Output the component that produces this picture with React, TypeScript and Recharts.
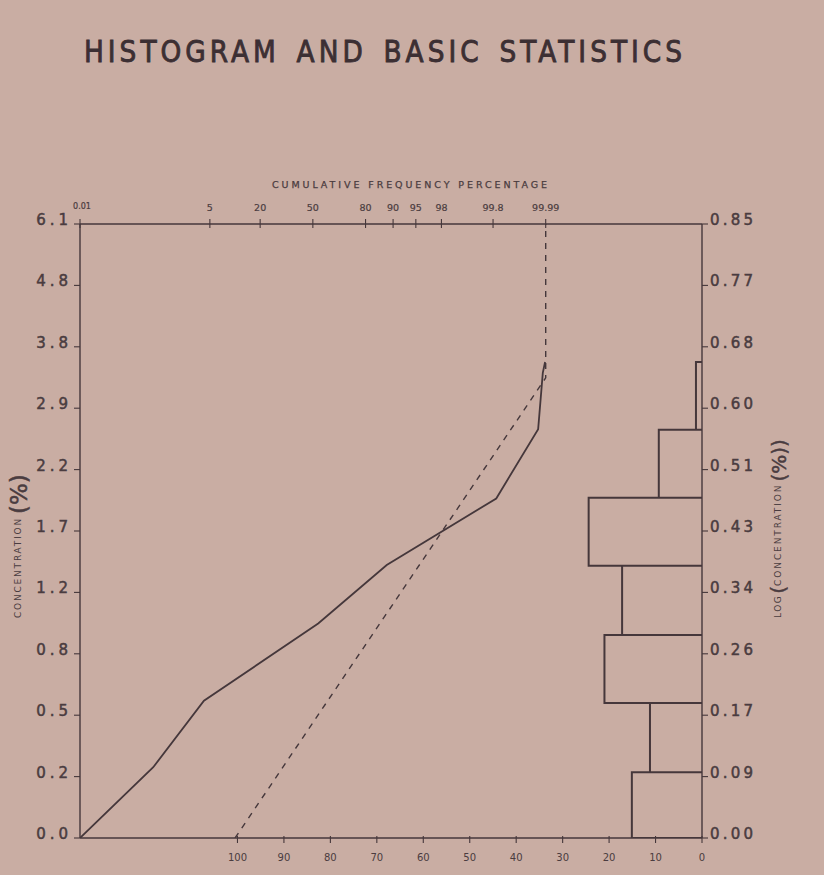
import React from "react";
import { ComposedChart, XAxis, YAxis, Scatter } from "recharts";

// ---------- data ----------
const TITLE = "HISTOGRAM AND BASIC STATISTICS";
const TOP_AXIS_TITLE = "CUMULATIVE FREQUENCY PERCENTAGE";

// cumulative frequency (probability) axis ticks, in percent
const cumTicks = [0.01, 5, 20, 50, 80, 90, 95, 98, 99.8, 99.99];
const cumTickLabels = ["0.01", "5", "20", "50", "80", "90", "95", "98", "99.8", "99.99"];

// log(1 + concentration) axis
const logTicks = [0, 0.085, 0.17, 0.255, 0.34, 0.425, 0.51, 0.595, 0.68, 0.765, 0.85];
const logLabels = ["0.00", "0.09", "0.17", "0.26", "0.34", "0.43", "0.51", "0.60", "0.68", "0.77", "0.85"];
const concLabels = ["0.0", "0.2", "0.5", "0.8", "1.2", "1.7", "2.2", "2.9", "3.8", "4.8", "6.1"];

// histogram frequency axis (percent), reversed
const freqTicks = [0, 10, 20, 30, 40, 50, 60, 70, 80, 90, 100];

// histogram bins (log concentration) and frequencies (%)
const binEdges = [0, 0.091, 0.187, 0.281, 0.377, 0.471, 0.565, 0.659];
const binFreq = [15.1, 11.2, 21.0, 17.2, 24.4, 9.3, 1.3];

// cumulative curve: percent vs log concentration
const curvePct = [0.01, 0.54, 4.1, 53.4, 88.1, 99.83, 99.984, 99.988, 99.9896];
const curveLog = [0, 0.098, 0.19, 0.297, 0.378, 0.47, 0.566, 0.644, 0.659];

// fitted (dashed) line
const fitPct = [10.7, 99.99, 99.99];
const fitLog = [0, 0.637, 0.85];

// ---------- helpers ----------
function probit(p: number): number {
  const a = [-3.969683028665376e1, 2.209460984245205e2, -2.759285104469687e2, 1.38357751867269e2, -3.066479806614716e1, 2.506628277459239];
  const b = [-5.447609879822406e1, 1.615858368580409e2, -1.556989798598866e2, 6.680131188771972e1, -1.328068155288572e1];
  const c = [-7.784894002430293e-3, -3.223964580411365e-1, -2.400758277161838, -2.549732539343734, 4.374664141464968, 2.938163982698783];
  const d = [7.784695709041462e-3, 3.224671290700398e-1, 2.445134137142996, 3.754408661907416];
  const pl = 0.02425;
  if (p < pl) {
    const q = Math.sqrt(-2 * Math.log(p));
    return (((((c[0] * q + c[1]) * q + c[2]) * q + c[3]) * q + c[4]) * q + c[5]) / ((((d[0] * q + d[1]) * q + d[2]) * q + d[3]) * q + 1);
  }
  if (p > 1 - pl) {
    const q = Math.sqrt(-2 * Math.log(1 - p));
    return -(((((c[0] * q + c[1]) * q + c[2]) * q + c[3]) * q + c[4]) * q + c[5]) / ((((d[0] * q + d[1]) * q + d[2]) * q + d[3]) * q + 1);
  }
  const q = p - 0.5;
  const r = q * q;
  return ((((((a[0] * r + a[1]) * r + a[2]) * r + a[3]) * r + a[4]) * r + a[5]) * q) / (((((b[0] * r + b[1]) * r + b[2]) * r + b[3]) * r + b[4]) * r + 1);
}

// ---------- layout ----------
const W = 824;
const H = 875;
const PLOT_L = 80;
const PLOT_R = 702;
const PLOT_T = 224;
const PLOT_B = 838;

const Z_MIN = probit(0.0001);
const Z_REF = probit(0.9999) - Z_MIN;
const Z_MAX = Z_MIN + Z_REF * ((PLOT_R - PLOT_L) / 465.7);
const FREQ_MAX = 133.9;

const BG = "#c9ada3";
const INK = "#45373b";
const TXT = "#4a3c40";
const FONT = "'DejaVu Sans', Verdana, sans-serif";

const topTickZ = cumTicks.map((p) => probit(p / 100));

const curveData = curvePct.map((p, i) => ({ z: probit(p / 100), v: curveLog[i] }));
const fitData = fitPct.map((p, i) => ({ z: probit(p / 100), v: fitLog[i] }));
const histData: { f: number; v: number }[] = [];
binFreq.forEach((f, i) => {
  const lo = binEdges[i];
  const hi = binEdges[i + 1];
  histData.push({ f: 0, v: lo }, { f, v: lo }, { f, v: hi }, { f: 0, v: hi });
});

function nearestIndex(arr: number[], v: number) {
  let best = 0;
  for (let i = 1; i < arr.length; i++) if (Math.abs(arr[i] - v) < Math.abs(arr[best] - v)) best = i;
  return best;
}

const NoDot = () => <g />;

const TopTick = (props: any) => {
  const { x, payload } = props;
  const i = nearestIndex(topTickZ, payload.value);
  const first = i === 0;
  return (
    <g>
      <line x1={x} x2={x} y1={PLOT_T - 5} y2={PLOT_T + 4} stroke={INK} strokeWidth={1.1} />
      <text
        x={first ? x + 2 : x}
        y={first ? PLOT_T - 15 : PLOT_T - 13}
        textAnchor="middle"
        fontFamily={FONT}
        fontSize={first ? 8 : 9.5}
        fill={TXT}
        stroke={TXT}
        strokeWidth={0.2}
      >
        {cumTickLabels[i]}
      </text>
    </g>
  );
};

const BottomTick = (props: any) => {
  const { x, payload } = props;
  const i = nearestIndex(freqTicks, payload.value);
  return (
    <g>
      <line x1={x} x2={x} y1={PLOT_B - 2} y2={PLOT_B + 5} stroke={INK} strokeWidth={1.1} />
      <text x={x} y={PLOT_B + 23} textAnchor="middle" fontFamily={FONT} fontSize={10} fill={TXT}>
        {freqTicks[i]}
      </text>
    </g>
  );
};

const LeftTick = (props: any) => {
  const { y, payload } = props;
  const i = nearestIndex(logTicks, payload.value);
  return (
    <g>
      <line x1={PLOT_L - 6} x2={PLOT_L} y1={y} y2={y} stroke={INK} strokeWidth={1.1} />
      <text
        x={PLOT_L - 8}
        y={y + 1}
        textAnchor="end"
        fontFamily={FONT}
        fontSize={15}
        letterSpacing={4}
        fill={TXT}
        stroke={TXT}
        strokeWidth={0.5}
      >
        {concLabels[i]}
      </text>
    </g>
  );
};

const RightTick = (props: any) => {
  const { y, payload } = props;
  const i = nearestIndex(logTicks, payload.value);
  return (
    <g>
      <line x1={PLOT_R} x2={PLOT_R + 6} y1={y} y2={y} stroke={INK} strokeWidth={1.1} />
      <text
        x={PLOT_R + 8}
        y={y + 1}
        textAnchor="start"
        fontFamily={FONT}
        fontSize={15}
        letterSpacing={3.2}
        fill={TXT}
        stroke={TXT}
        strokeWidth={0.5}
      >
        {logLabels[i]}
      </text>
    </g>
  );
};

const axisLine = { stroke: INK, strokeWidth: 1.4 };

export default function App() {
  return (
    <div style={{ position: "absolute", left: 0, top: 0, width: W, height: H, background: BG, overflow: "hidden" }}>
      <ComposedChart
        width={W}
        height={H}
        margin={{ top: PLOT_T - 40, right: W - PLOT_R - 80, bottom: H - PLOT_B - 30, left: PLOT_L - 70 }}
      >
        <XAxis
          xAxisId="top"
          orientation="top"
          type="number"
          dataKey="z"
          domain={[Z_MIN, Z_MAX]}
          allowDataOverflow
          ticks={topTickZ}
          interval={0}
          height={40}
          tickLine={false}
          tick={(p: any) => <TopTick {...p} />}
          axisLine={axisLine}
        />
        <XAxis
          xAxisId="bottom"
          orientation="bottom"
          type="number"
          dataKey="f"
          domain={[0, FREQ_MAX]}
          reversed
          allowDataOverflow
          ticks={freqTicks}
          interval={0}
          height={30}
          tickLine={false}
          tick={(p: any) => <BottomTick {...p} />}
          axisLine={axisLine}
        />
        <YAxis
          yAxisId="left"
          orientation="left"
          type="number"
          dataKey="v"
          domain={[0, 0.85]}
          allowDataOverflow
          ticks={logTicks}
          interval={0}
          width={70}
          tickLine={false}
          tick={(p: any) => <LeftTick {...p} />}
          axisLine={axisLine}
        />
        <YAxis
          yAxisId="right"
          orientation="right"
          type="number"
          dataKey="v"
          domain={[0, 0.85]}
          allowDataOverflow
          ticks={logTicks}
          interval={0}
          width={80}
          tickLine={false}
          tick={(p: any) => <RightTick {...p} />}
          axisLine={axisLine}
        />
        <Scatter
          xAxisId="bottom"
          yAxisId="right"
          data={histData}
          line={{ stroke: INK, strokeWidth: 2 }}
          lineType="joint"
          shape={NoDot}
          isAnimationActive={false}
        />
        <Scatter
          xAxisId="top"
          yAxisId="left"
          data={fitData}
          line={{ stroke: INK, strokeWidth: 1.4, strokeDasharray: "6 6" }}
          lineType="joint"
          shape={NoDot}
          isAnimationActive={false}
        />
        <Scatter
          xAxisId="top"
          yAxisId="left"
          data={curveData}
          line={{ stroke: INK, strokeWidth: 1.8 }}
          lineType="joint"
          shape={NoDot}
          isAnimationActive={false}
        />
      </ComposedChart>

      <svg width={W} height={H} style={{ position: "absolute", left: 0, top: 0, pointerEvents: "none" }}>
        <text
          transform="translate(84,62) scale(0.88,1)"
          x={0}
          y={0}
          fontFamily={FONT}
          fontSize={30}
          fill="#3c2f33"
          stroke="#3c2f33"
          strokeWidth={0.9}
          wordSpacing={5}
          textLength={598 / 0.88}
          lengthAdjust="spacing"
        >
          {TITLE}
        </text>
        <text
          x={272}
          y={188}
          fontFamily={FONT}
          fontSize={9.5}
          fill={TXT}
          stroke={TXT}
          strokeWidth={0.25}
          textLength={275}
          lengthAdjust="spacing"
        >
          {TOP_AXIS_TITLE}
        </text>
        <text transform="translate(21,618) rotate(-90)" fontFamily={FONT} fill={TXT}>
          <tspan fontSize={9} letterSpacing={1.8}>CONCENTRATION</tspan>
          <tspan fontSize={23} dx={3} dy={6} stroke={TXT} strokeWidth={0.5}>(%)</tspan>
        </text>
        <text transform="translate(781,618) rotate(-90)" fontFamily={FONT} fill={TXT}>
          <tspan fontSize={9} letterSpacing={1.5}>LOG</tspan>
          <tspan fontSize={20} dx={1} dy={4} stroke={TXT} strokeWidth={0.5}>(</tspan>
          <tspan fontSize={9} letterSpacing={1.9} dy={-4}>CONCENTRATION</tspan>
          <tspan fontSize={20} dx={2} dy={5} stroke={TXT} strokeWidth={0.5}>(%))</tspan>
        </text>
      </svg>
    </div>
  );
}
